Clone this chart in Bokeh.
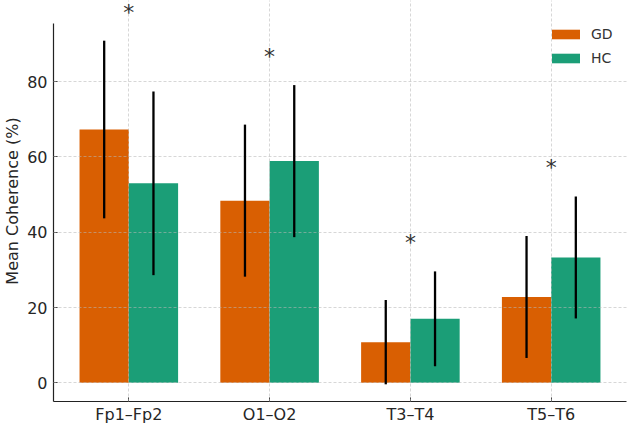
from bokeh.plotting import figure
from bokeh.models import ColumnDataSource, Range1d, FixedTicker, Label, Legend, LegendItem
from bokeh.embed import file_html
from bokeh.resources import INLINE

# ---- data ----
channels = ["Fp1–Fp2", "O1–O2", "T3–T4", "T5–T6"]
gd_mean = [67.3, 48.4, 10.8, 22.8]
gd_sd = [23.6, 20.2, 11.2, 16.2]
hc_mean = [53.0, 58.9, 17.0, 33.3]
hc_sd = [24.4, 20.2, 12.6, 16.2]
significant = ["*", "*", "*", "*"]
y_ticks = [0, 20, 40, 60, 80]

BAR_W = 0.35
GD_COLOR = "#d95f02"
HC_COLOR = "#1b9e77"
TEXT_COLOR = "#262626"

# layout (screen px)
W, H = 630, 427
AX_LEFT, AX_RIGHT, AX_TOP, AX_BOTTOM = 53, 626, 23, 401

idx = list(range(len(channels)))
gd_x = [i - BAR_W / 2 for i in idx]
hc_x = [i + BAR_W / 2 for i in idx]

gd_src = ColumnDataSource(dict(
    x=gd_x, top=gd_mean,
    lo=[m - s for m, s in zip(gd_mean, gd_sd)],
    hi=[m + s for m, s in zip(gd_mean, gd_sd)]))
hc_src = ColumnDataSource(dict(
    x=hc_x, top=hc_mean,
    lo=[m - s for m, s in zip(hc_mean, hc_sd)],
    hi=[m + s for m, s in zip(hc_mean, hc_sd)]))

# autoscale like matplotlib (5 % margins)
x_lo, x_hi = min(gd_x) - BAR_W / 2, max(hc_x) + BAR_W / 2
y_lo = min(0, min(gd_src.data["lo"] + hc_src.data["lo"]))
y_hi = max(gd_src.data["hi"] + hc_src.data["hi"])
xm = 0.05 * (x_hi - x_lo)
ym = 0.05 * (y_hi - y_lo)
ax_y0, ax_y1 = y_lo - ym, y_hi + ym
# the frame is stretched to the top of the canvas so that markers above the
# axes box stay visible; the axis line and grid are bounded to the axes box
units_per_px = (ax_y1 - ax_y0) / (AX_BOTTOM - AX_TOP)
frame_y1 = ax_y1 + AX_TOP * units_per_px

p = figure(width=W, height=H, output_backend="svg", toolbar_location=None,
           x_range=Range1d(x_lo - xm, x_hi + xm),
           y_range=Range1d(ax_y0, frame_y1),
           min_border_left=AX_LEFT, min_border_right=W - AX_RIGHT,
           min_border_top=0, min_border_bottom=H - AX_BOTTOM)
p.outline_line_color = None
p.background_fill_color = "white"
p.border_fill_color = "white"

r_gd = p.vbar(x="x", top="top", bottom=0, width=BAR_W, source=gd_src,
              fill_color=GD_COLOR, line_color=None)
r_hc = p.vbar(x="x", top="top", bottom=0, width=BAR_W, source=hc_src,
              fill_color=HC_COLOR, line_color=None)

e1 = p.segment(x0="x", y0="lo", x1="x", y1="hi", source=gd_src,
               line_color="black", line_width=2.3)
e2 = p.segment(x0="x", y0="lo", x1="x", y1="hi", source=hc_src,
               line_color="black", line_width=2.3)
e1.level = "annotation"
e2.level = "annotation"

# significance markers
star_top = [max(a, b) for a, b in zip(gd_src.data["hi"], hc_src.data["hi"])]
for i, t, s in zip(idx, star_top, significant):
    p.add_layout(Label(x=i, y=t + 10.9, text=s, text_align="center",
                       text_baseline="top", text_font="DejaVu Sans",
                       text_font_size="22px", text_color="#333333"))

# axes
p.xaxis.ticker = FixedTicker(ticks=idx)
p.xaxis.major_label_overrides = {i: c for i, c in zip(idx, channels)}
p.yaxis.ticker = FixedTicker(ticks=y_ticks)
p.yaxis.bounds = (ax_y0, ax_y1)
p.yaxis.axis_label = "Mean Coherence (%)"
for ax in (p.xaxis[0], p.yaxis[0]):
    ax.major_tick_in = 4
    ax.major_tick_out = 0
    ax.minor_tick_line_color = None
    ax.axis_line_color = "#222222"
    ax.axis_line_width = 1.2
    ax.major_tick_line_color = "#222222"
    ax.major_label_text_font = "DejaVu Sans"
    ax.major_label_text_font_size = "16px"
    ax.major_label_text_color = TEXT_COLOR
p.xaxis.major_label_standoff = 3
p.yaxis.major_label_standoff = 6
p.yaxis.axis_label_text_font = "DejaVu Sans"
p.yaxis.axis_label_text_font_size = "16px"
p.yaxis.axis_label_text_font_style = "normal"
p.yaxis.axis_label_text_color = TEXT_COLOR
p.yaxis.axis_label_standoff = 2

# grid: above bars, below error bars
for g in (p.xgrid[0], p.ygrid[0]):
    g.grid_line_color = "#b8b8b8"
    g.grid_line_alpha = 0.7
    g.grid_line_dash = "3 2"
    g.grid_line_width = 0.8
    g.level = "guide"
p.xgrid.bounds = (ax_y0, ax_y1)

# legend (box: 83 x 48 px, top-right corner 3 px inside the axes box)
LEG_W, LEG_H = 83, 48
legend = Legend(items=[LegendItem(label="GD", renderers=[r_gd]),
                       LegendItem(label="HC", renderers=[r_hc])],
                location=(AX_RIGHT - 3 - LEG_W - AX_LEFT, AX_BOTTOM - AX_TOP - 3 - LEG_H))
legend.glyph_width = 35
legend.glyph_height = 12
legend.label_height = 12
legend.label_width = 24
legend.spacing = 8
legend.label_standoff = 8
legend.label_text_font = "DejaVu Sans"
legend.label_text_font_size = "14px"
legend.label_text_color = "#333333"
legend.background_fill_alpha = 0
legend.border_line_alpha = 0
legend.margin = 0
legend.padding = 8
p.add_layout(legend)

open("out.html", "w").write(file_html(p, INLINE))
